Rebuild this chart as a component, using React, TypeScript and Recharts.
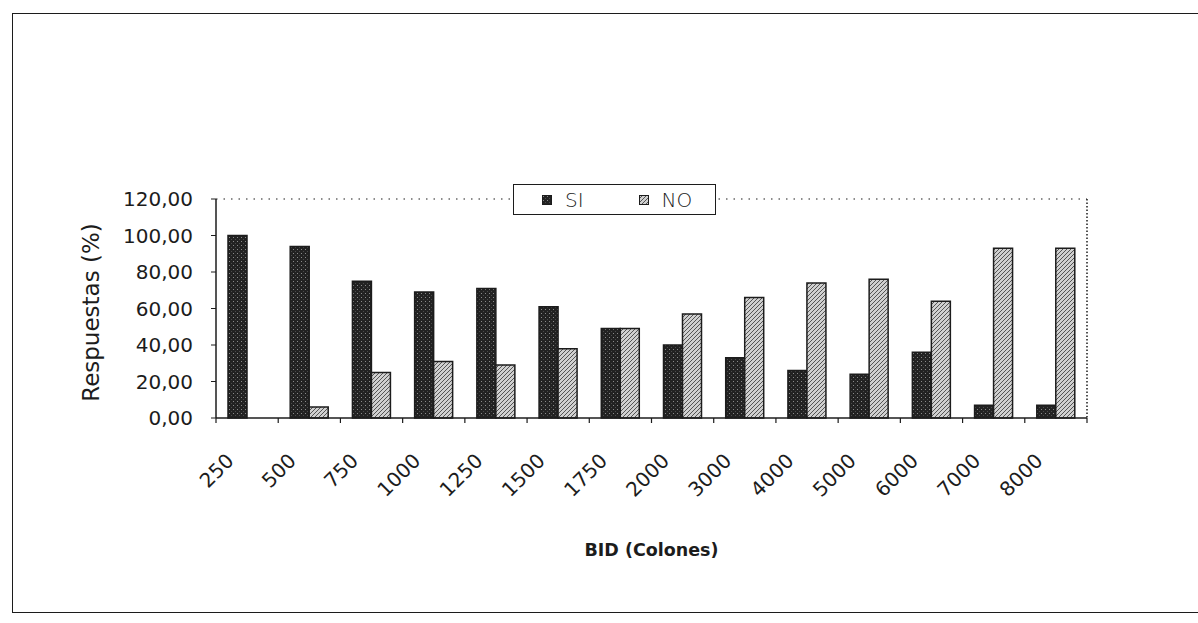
import { Bar, BarChart, CartesianGrid, Legend, XAxis, YAxis } from "recharts"

const bids = ["250", "500", "750", "1000", "1250", "1500", "1750", "2000", "3000", "4000", "5000", "6000", "7000", "8000"]
const si = [100, 94, 75, 69, 71, 61, 49, 40, 33, 26, 24, 36, 7, 7]
const no = [0, 6, 25, 31, 29, 38, 49, 57, 66, 74, 76, 64, 93, 93]
const yTicks = [0, 20, 40, 60, 80, 100, 120]

const data = bids.map((b, i) => ({ bid: b, si: si[i], no: no[i] }))

const W = 1198
const H = 623
const M = { top: 199, right: 111, bottom: 55, left: 16 }
const Y_W = 200
const bandW = (W - M.left - Y_W - M.right) / bids.length

const FONT = "'DejaVu Sans', sans-serif"
const INK = "#1c1c1c"

const fmt = (v: number) => v.toFixed(2).replace(".", ",")

function BidTick(props: any) {
  const { x, y, payload, index } = props
  const ax = x - 12
  const ay = y + 44
  const left = x - bandW / 2
  return (
    <g>
      <line x1={left} y1={y} x2={left} y2={y + 5} stroke={INK} strokeWidth={1.2} />
      {index === bids.length - 1 && (
        <line x1={x + bandW / 2} y1={y} x2={x + bandW / 2} y2={y + 5} stroke={INK} strokeWidth={1.2} />
      )}
      <text
        x={ax}
        y={ay}
        transform={`rotate(-45 ${ax} ${ay})`}
        textAnchor="end"
        fontSize={20}
        fontFamily={FONT}
        fill={INK}
      >
        {payload.value}
      </text>
    </g>
  )
}

function Swatch({ id }: { id: string }) {
  return (
    <svg width={10} height={10} style={{ display: "block" }}>
      <rect x={0.5} y={0.5} width={9} height={9} fill={`url(#${id})`} stroke={INK} strokeWidth={1} />
    </svg>
  )
}

function LegendBox() {
  return (
    <div
      style={{
        width: 201,
        height: 29,
        border: `1.5px solid ${INK}`,
        background: "#fff",
        display: "flex",
        alignItems: "center",
        fontFamily: FONT,
        fontSize: 20,
        color: INK,
        fontWeight: 300,
      }}
    >
      <div style={{ marginLeft: 28 }}><Swatch id="pSI" /></div>
      <span style={{ marginLeft: 13 }}>SI</span>
      <div style={{ marginLeft: 55 }}><Swatch id="pNO" /></div>
      <span style={{ marginLeft: 13 }}>NO</span>
    </div>
  )
}

export default function App() {
  return (
    <div style={{ position: "absolute", left: 0, top: 0, width: W, height: H, background: "#fff" }}>
      <div
        style={{
          position: "absolute",
          left: 12,
          top: 13,
          width: W - 12,
          height: 600,
          borderLeft: `1.5px solid ${INK}`,
          borderTop: `1.5px solid ${INK}`,
          borderBottom: `1.5px solid ${INK}`,
          boxSizing: "border-box",
        }}
      />
      <div style={{ position: "absolute", left: 0, top: 0 }}>
        <BarChart width={W} height={H} data={data} margin={M} barGap={0} barCategoryGap="20%">
          <defs>
            <pattern id="pSI" width={4} height={4} patternUnits="userSpaceOnUse">
              <rect width={4} height={4} fill="#222" />
              <rect x={1} y={1} width={1} height={1} fill="#8a8a8a" />
              <rect x={3} y={3} width={1} height={1} fill="#4a4a4a" />
            </pattern>
            <pattern id="pNO" width={4} height={4} patternUnits="userSpaceOnUse">
              <rect width={4} height={4} fill="#d0d0d0" />
              <path d="M-1,1 L1,-1 M0,4 L4,0 M3,5 L5,3" stroke="#555" strokeWidth={1} />
            </pattern>
          </defs>
          <CartesianGrid
            vertical={false}
            horizontalCoordinatesGenerator={({ offset }: any) => [offset.top]}
            stroke={INK}
            strokeWidth={1.2}
            strokeDasharray="1.5 6"
          />
          <CartesianGrid
            horizontal={false}
            verticalCoordinatesGenerator={({ offset }: any) => [offset.left + offset.width]}
            stroke={INK}
            strokeWidth={1.5}
            strokeDasharray="1.5 2"
          />
          <XAxis
            dataKey="bid"
            height={150}
            tickSize={0}
            tickMargin={0}
            tickLine={false}
            interval={0}
            axisLine={{ stroke: INK, strokeWidth: 1.5 }}
            tick={<BidTick />}
            label={{
              content: ({ viewBox }: any) => (
                <text
                  x={viewBox.x + viewBox.width / 2}
                  y={viewBox.y + 138}
                  textAnchor="middle"
                  fontSize={17.5}
                  fontWeight="bold"
                  fontFamily={FONT}
                  fill={INK}
                >
                  BID (Colones)
                </text>
              ),
            }}
          />
          <YAxis
            width={Y_W}
            domain={[0, 120]}
            ticks={yTicks}
            interval={0}
            tickFormatter={fmt}
            tickSize={5}
            tickMargin={18}
            tick={{ fontSize: 20, fontFamily: FONT, fill: INK }}
            tickLine={{ stroke: INK }}
            axisLine={{ stroke: INK, strokeWidth: 1.5 }}
            label={{
              content: ({ viewBox }: any) => {
                const cx = viewBox.x + 75
                const cy = viewBox.y + viewBox.height / 2 + 4
                return (
                  <text
                    x={cx}
                    y={cy}
                    transform={`rotate(-90 ${cx} ${cy})`}
                    textAnchor="middle"
                    dominantBaseline="central"
                    fontSize={23}
                    fontFamily={FONT}
                    fill={INK}
                  >
                    Respuestas (%)
                  </text>
                )
              },
            }}
          />
          <Bar dataKey="si" name="SI" fill="url(#pSI)" stroke={INK} strokeWidth={1.5} barSize={19} isAnimationActive={false} />
          <Bar dataKey="no" name="NO" fill="url(#pNO)" stroke={INK} strokeWidth={1.5} barSize={19} isAnimationActive={false} />
          <Legend
            layout="horizontal"
            verticalAlign="middle"
            align="center"
            content={() => <LegendBox />}
            wrapperStyle={{ position: "absolute", left: 513, top: 184, width: 204, height: 32 }}
          />
        </BarChart>
      </div>
    </div>
  )
}
